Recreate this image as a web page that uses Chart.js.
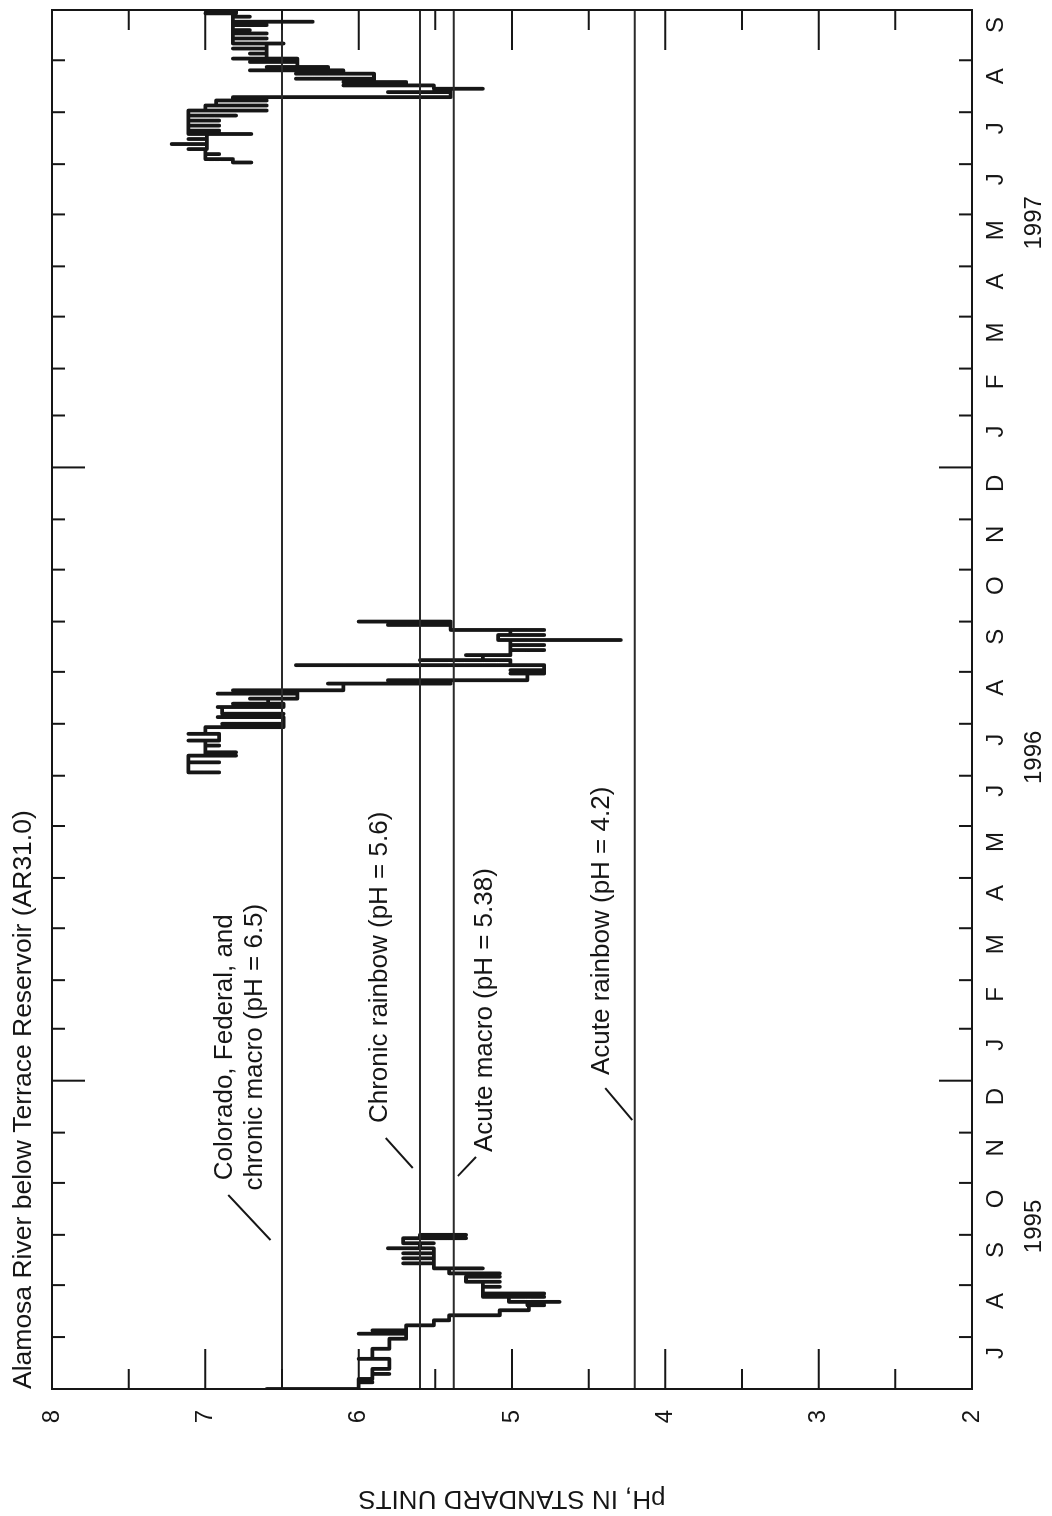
<!DOCTYPE html>
<html>
<head>
<meta charset="utf-8">
<script src="https://cdn.jsdelivr.net/npm/chart.js@4.4.1/dist/chart.umd.min.js"></script>
<style>
  html, body { margin: 0; padding: 0; background: #fff; }
  body { width: 1052px; height: 1516px; overflow: hidden; position: relative; }
  /* the figure is drawn landscape and turned a quarter turn, like the printed page */
  #page { position: absolute; left: 0; top: 0; width: 1516px; height: 1052px;
          transform-origin: 0 0; transform: translate(0, 1516px) rotate(-90deg); }
</style>
</head>
<body>
<div id="page"><canvas id="ph" width="1516" height="1052"></canvas></div>
<script>
// month letters, July 1995 .. September 1997
const monthLabels = ['J','A','S','O','N','D','J','F','M','A','M','J','J','A','S','O','N','D','J','F','M','A','M','J','J','A','S'];
const yearLabels = ['1995', '1996', '1997'];
const yearLabelDays = [97, 377, 696];   // days after 1 July 1995
const criteria = [6.5, 5.6, 5.38, 4.2];

// pH record, days after 1 July 1995 (stepped trace)
const day95 = [0, 0, 4, 4, 6, 9, 9, 12, 18, 18, 24, 30, 33, 33, 35, 35, 38, 41, 44, 47, 50, 50, 52, 52, 55, 55, 57, 57, 61, 61, 64, 64, 67, 67, 69, 69, 72, 72, 75, 75, 78, 78, 81, 81, 84, 84, 87, 87, 90, 90, 92, 92];
const ph95  = [6.60, 6.00, 5.91, 6.00, 5.91, 5.80, 5.91, 5.80, 6.00, 5.91, 5.80, 5.69, 6.00, 5.69, 5.91, 5.69, 5.51, 5.41, 5.08, 4.89, 4.79, 4.90, 4.69, 5.02, 4.79, 5.19, 4.79, 5.19, 5.08, 5.19, 5.08, 5.30, 5.08, 5.19, 5.08, 5.41, 5.19, 5.51, 5.71, 5.51, 5.71, 5.51, 5.71, 5.51, 5.81, 5.60, 5.51, 5.71, 5.30, 5.60, 5.30, 5.41];

const day96 = [368, 368, 374, 374, 378, 378, 380, 380, 384, 384, 387, 387, 391, 391, 395, 397, 397, 401, 401, 403, 403, 407, 407, 409, 409, 412, 412, 415, 415, 417, 417, 421, 421, 423, 423, 427, 427, 429, 429, 432, 432, 435, 435, 438, 438, 441, 441, 444, 444, 447, 447, 450, 450, 453, 453, 456, 456, 458, 458];
const ph96  = [6.91, 7.11, 6.91, 7.11, 6.80, 7.00, 6.80, 7.00, 6.91, 7.00, 7.11, 6.91, 7.11, 7.00, 6.49, 6.89, 6.49, 6.92, 6.69, 6.49, 6.89, 6.92, 6.49, 6.82, 6.59, 6.71, 6.40, 6.92, 6.40, 6.82, 6.10, 6.20, 5.40, 5.81, 4.90, 5.01, 4.79, 5.01, 4.79, 6.41, 5.01, 5.60, 5.19, 5.30, 5.01, 4.79, 5.01, 4.79, 5.01, 4.29, 5.09, 4.79, 5.01, 4.79, 5.40, 5.81, 5.40, 6.00, 5.69];

const day97 = [732, 732, 734, 737, 737, 740, 740, 743, 743, 746, 746, 749, 749, 751, 751, 754, 754, 757, 757, 760, 760, 763, 763, 766, 766, 769, 769, 771, 771, 774, 774, 776, 776, 778, 778, 780, 780, 782, 782, 785, 785, 787, 787, 789, 789, 792, 792, 794, 794, 797, 797, 800, 800, 803, 803, 806, 806, 809, 809, 811, 811, 814, 814, 816, 816, 819, 819, 821, 821, 823];
const ph97  = [6.70, 6.82, 7.00, 6.91, 7.00, 7.11, 6.99, 7.22, 6.99, 7.11, 6.99, 6.70, 7.11, 6.91, 7.11, 6.91, 7.11, 6.91, 7.11, 6.80, 7.11, 6.60, 7.00, 6.60, 6.93, 6.60, 6.82, 6.71, 5.40, 5.81, 5.40, 5.19, 5.51, 6.10, 5.69, 6.10, 5.90, 6.41, 5.90, 6.41, 6.10, 6.71, 6.20, 6.60, 6.40, 6.71, 6.40, 6.82, 6.60, 6.71, 6.60, 6.82, 6.60, 6.49, 6.82, 6.60, 6.82, 6.60, 6.82, 6.71, 6.82, 6.60, 6.82, 6.30, 6.82, 6.71, 6.82, 7.00, 6.80, 7.00];

// month boundaries in days after the start
const START = Date.UTC(1995, 6, 1);
const monthEdges = [];
for (let i = 0; i <= monthLabels.length; i++) {
    monthEdges.push((Date.UTC(1995, 6 + i, 1) - START) / 864e5);
}
const AXIS_END = monthEdges[monthEdges.length - 1];
const LABEL_SHIFT = 6;   // the letters sit a little late in each month
const monthCenters = monthLabels.map((m, i) => (monthEdges[i] + monthEdges[i + 1]) / 2 + LABEL_SHIFT);

const ink = '#161616';
const family = "'Liberation Sans', Arial, Helvetica, sans-serif";

// criterion labels, placed in data units
const notes = [
    { lines: ['Colorado, Federal, and', 'chronic macro (pH = 6.5)'], day: 204, ph: [6.826, 6.630], align: 'center',
      leader: [[115.8, 6.85], [88.9, 6.575]] },
    { lines: ['Chronic rainbow (pH = 5.6)'], day: 158.7, ph: [5.815], align: 'left',
      leader: [[149.8, 5.824], [131.9, 5.647]] },
    { lines: ['Acute macro (pH = 5.38)'], day: 141.4, ph: [5.130], align: 'left',
      leader: [[138.5, 5.235], [127.1, 5.353]] },
    { lines: ['Acute rainbow (pH = 4.2)'], day: 187.4, ph: [4.367], align: 'left',
      leader: [[179.6, 4.392], [160.5, 4.216]] }
];

const toPoints = (days, vals) => days.map((d, i) => ({ x: d, y: vals[i] }));

const traceStyle = { borderColor: ink, borderWidth: 3.8, pointRadius: 0, stepped: true,
                     borderCapStyle: 'round', borderJoinStyle: 'round' };

const datasets = [
    ...criteria.map(v => ({ data: [{ x: 0, y: v }, { x: AXIS_END, y: v }], borderColor: '#2a2a2a',
                            borderWidth: 2, pointRadius: 0 })),
    { data: toPoints(day95, ph95), ...traceStyle },
    { data: toPoints(day96, ph96), ...traceStyle },
    { data: toPoints(day97, ph97), ...traceStyle }
];

const frame = {
    id: 'frame',
    afterDatasetsDraw(chart) {
        const { ctx, chartArea: a, scales: { x, y } } = chart;
        ctx.save();
        ctx.strokeStyle = ink;
        ctx.lineWidth = 2;
        ctx.strokeRect(a.left, a.top, a.width, a.height);

        ctx.beginPath();
        monthEdges.forEach((d, i) => {
            if (d <= 0 || d >= AXIS_END) return;
            const px = x.getPixelForValue(d);
            const len = (6 + i) % 12 === 0 ? 33 : 13;
            ctx.moveTo(px, a.top); ctx.lineTo(px, a.top + len);
            ctx.moveTo(px, a.bottom); ctx.lineTo(px, a.bottom - len);
        });
        for (let v = 2.5; v < 8; v += 0.5) {
            const py = y.getPixelForValue(v);
            const len = Number.isInteger(v) ? 40 : 20;
            ctx.moveTo(a.left, py); ctx.lineTo(a.left + len, py);
            ctx.moveTo(a.right, py); ctx.lineTo(a.right - len, py);
        }
        ctx.stroke();

        // criterion notes and leaders
        ctx.fillStyle = ink;
        ctx.font = '26px ' + family;
        ctx.textBaseline = 'alphabetic';
        notes.forEach(n => {
            ctx.textAlign = n.align;
            n.lines.forEach((t, i) => ctx.fillText(t, x.getPixelForValue(n.day), y.getPixelForValue(n.ph[i])));
            ctx.beginPath();
            ctx.moveTo(x.getPixelForValue(n.leader[0][0]), y.getPixelForValue(n.leader[0][1]));
            ctx.lineTo(x.getPixelForValue(n.leader[1][0]), y.getPixelForValue(n.leader[1][1]));
            ctx.stroke();
        });

        // station name
        ctx.textAlign = 'left';
        ctx.font = '26.5px ' + family;
        ctx.fillText('Alamosa River below Terrace Reservoir (AR31.0)', a.left, 31);
        ctx.restore();
    }
};

new Chart(document.getElementById('ph'), {
    type: 'line',
    data: { datasets },
    options: {
        responsive: false,
        animation: false,
        devicePixelRatio: 1,
        layout: { padding: { top: 52, right: 10, bottom: 0, left: 0 } },
        plugins: { legend: { display: false }, tooltip: { enabled: false }, title: { display: false } },
        scales: {
            x: {
                type: 'linear', position: 'bottom', min: 0, max: AXIS_END,
                grid: { display: false, drawTicks: false }, border: { display: false },
                afterBuildTicks: s => { s.ticks = monthCenters.map(v => ({ value: v })); },
                afterFit: s => { s.height = 40; },
                ticks: { autoSkip: false, maxRotation: 0, minRotation: 0, padding: 10, color: ink,
                         font: { size: 24, family }, callback: (v, i) => monthLabels[i] }
            },
            x2: {
                type: 'linear', position: 'bottom', weight: 1, min: 0, max: AXIS_END,
                grid: { display: false, drawTicks: false }, border: { display: false },
                afterBuildTicks: s => { s.ticks = yearLabelDays.map(v => ({ value: v })); },
                afterFit: s => { s.height = 40; },
                ticks: { autoSkip: false, maxRotation: 0, minRotation: 0, padding: 8, color: ink,
                         font: { size: 24, family }, callback: (v, i) => yearLabels[i] }
            },
            y: {
                min: 2, max: 8, position: 'left',
                grid: { display: false, drawTicks: false }, border: { display: false },
                afterFit: s => { s.width = 127; },
                ticks: { stepSize: 1, padding: 21, color: ink, font: { size: 24, family } },
                title: { display: true, text: 'pH, IN STANDARD UNITS', color: ink,
                         font: { size: 26, family }, padding: { top: 2, bottom: 0 } }
            }
        }
    },
    plugins: [frame]
});
</script>
</body>
</html>
